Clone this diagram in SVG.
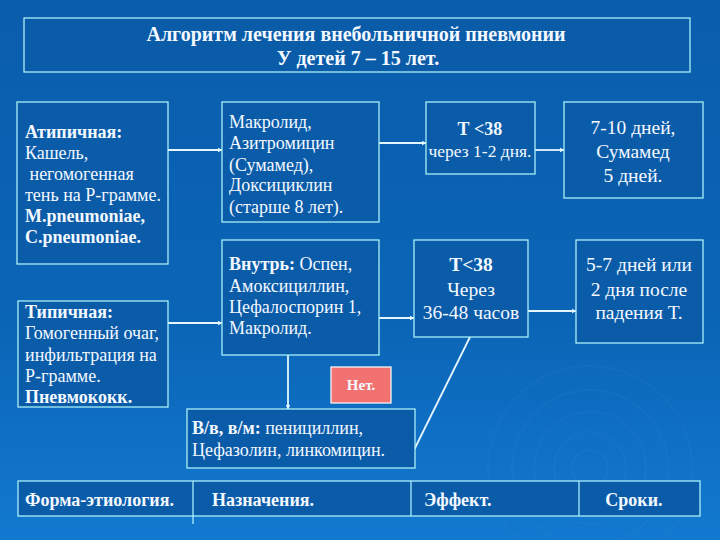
<svg xmlns="http://www.w3.org/2000/svg" width="720" height="540" viewBox="0 0 720 540">
<defs>
<linearGradient id="bg" x1="0" y1="0" x2="0" y2="1">
<stop offset="0" stop-color="#0A5DAC"/>
<stop offset="0.6" stop-color="#0B65B6"/>
<stop offset="1" stop-color="#1279D0"/>
</linearGradient>
<marker id="ah" viewBox="0 0 10 10" refX="9" refY="5" markerWidth="5" markerHeight="5" orient="auto" markerUnits="userSpaceOnUse">
<path d="M0,0 L10,5 L0,10 z" fill="#E6F6FF"/>
</marker>
<style>
.box{fill:#0A5CA9;stroke:#A8EEF8;stroke-width:1.3}
.ln{stroke:#E6F6FF;stroke-width:1.8;fill:none}
.ar{marker-end:url(#ah)}
.deco{fill:none;stroke:#3A8FDD;stroke-opacity:0.12;stroke-width:2}
</style>
</defs>
<rect width="720" height="540" fill="url(#bg)"/>
<g id="decor">
<circle class="deco" cx="590" cy="468" r="18"/>
<circle class="deco" cx="590" cy="468" r="36"/>
<circle class="deco" cx="590" cy="468" r="56"/>
<circle class="deco" cx="590" cy="468" r="78"/>
<circle class="deco" cx="590" cy="468" r="102"/>
</g>
<g id="title">
<rect class="box" x="24" y="18" width="666" height="54"/>
<text x="356" y="41" font-family="Liberation Serif" font-size="20" font-weight="bold" fill="#F4F8FF" text-anchor="middle">Алгоритм лечения внебольничной пневмонии</text>
<text x="358" y="65" font-family="Liberation Serif" font-size="20" font-weight="bold" fill="#F4F8FF" text-anchor="middle">У детей 7 – 15 лет.</text>
</g>
<g id="connectors">
<line class="ln ar" x1="168" y1="150" x2="222" y2="150"/>
<line class="ln ar" x1="168" y1="323" x2="222" y2="323"/>
<line class="ln ar" x1="379" y1="143" x2="426" y2="143"/>
<line class="ln ar" x1="535" y1="150" x2="564" y2="150"/>
<line class="ln ar" x1="379" y1="318" x2="414" y2="318"/>
<line class="ln ar" x1="528" y1="311" x2="576" y2="311"/>
<line class="ln ar" x1="288" y1="355" x2="288" y2="409"/>
<line class="ln" x1="470" y1="337" x2="414" y2="450" stroke-width="1.5"/>
</g>
<g id="atypical">
<rect class="box" x="17" y="102" width="151" height="162"/>
<text x="25" y="138" font-family="Liberation Serif" font-size="18" fill="#F4F8FF"><tspan font-weight="bold">Атипичная:</tspan><tspan x="25" dy="21">Кашель,</tspan><tspan x="25" dy="21"> негомогенная</tspan><tspan x="25" dy="21">тень на Р-грамме.</tspan><tspan x="25" dy="21" font-weight="bold">M.pneumoniae,</tspan><tspan x="25" dy="21" font-weight="bold">C.pneumoniae.</tspan></text>
</g>
<g id="typical">
<rect class="box" x="18" y="301" width="150" height="106"/>
<text x="25" y="318" font-family="Liberation Serif" font-size="18" fill="#F4F8FF"><tspan font-weight="bold">Типичная:</tspan><tspan x="25" dy="21">Гомогенный очаг,</tspan><tspan x="25" dy="22">инфильтрация на</tspan><tspan x="25" dy="21">Р-грамме.</tspan><tspan x="25" dy="21" font-weight="bold">Пневмококк.</tspan></text>
</g>
<g id="macrolide">
<rect class="box" x="222" y="102" width="157" height="120"/>
<text x="229" y="128" font-family="Liberation Serif" font-size="18" fill="#F4F8FF">Макролид,<tspan x="229" dy="21">Азитромицин</tspan><tspan x="229" dy="22">(Сумамед),</tspan><tspan x="229" dy="20">Доксициклин</tspan><tspan x="229" dy="22">(старше 8 лет).</tspan></text>
</g>
<g id="oral">
<rect class="box" x="222" y="240" width="157" height="115"/>
<text x="229" y="270" font-family="Liberation Serif" font-size="18" fill="#F4F8FF"><tspan font-weight="bold">Внутрь:</tspan> Оспен,<tspan x="229" dy="22">Амоксициллин,</tspan><tspan x="229" dy="21">Цефалоспорин 1,</tspan><tspan x="229" dy="21">Макролид.</tspan></text>
</g>
<g id="t38a">
<rect class="box" x="426" y="102" width="109" height="72"/>
<text x="480" y="135" font-family="Liberation Serif" font-size="18" font-weight="bold" fill="#F4F8FF" text-anchor="middle">Т &lt;38</text>
<text x="480" y="157" font-family="Liberation Serif" font-size="17.5" fill="#F4F8FF" text-anchor="middle">через 1-2 дня.</text>
</g>
<g id="days1">
<rect class="box" x="564" y="102" width="139" height="96"/>
<text x="633" y="134" font-family="Liberation Serif" font-size="19.5" fill="#F4F8FF" text-anchor="middle">7-10 дней,<tspan x="633" dy="24">Сумамед</tspan><tspan x="633" dy="24">5 дней.</tspan></text>
</g>
<g id="t38b">
<rect class="box" x="414" y="240" width="114" height="97"/>
<text x="471" y="271" font-family="Liberation Serif" font-size="19.5" font-weight="bold" fill="#F4F8FF" text-anchor="middle">Т&lt;38</text>
<text x="471" y="296" font-family="Liberation Serif" font-size="19.5" fill="#F4F8FF" text-anchor="middle">Через<tspan x="471" dy="23">36-48 часов</tspan></text>
</g>
<g id="days2">
<rect class="box" x="576" y="240" width="127" height="103"/>
<text x="639" y="271" font-family="Liberation Serif" font-size="19.5" fill="#F4F8FF" text-anchor="middle">5-7 дней или<tspan x="639" dy="25">2 дня после</tspan><tspan x="639" dy="23">падения Т.</tspan></text>
</g>
<g id="no">
<rect x="331" y="367" width="60" height="36" fill="#F27272" stroke="#F4F4F4" stroke-width="1.3"/>
<text x="361" y="390" font-family="Liberation Serif" font-size="15" font-weight="bold" fill="#F4F8FF" text-anchor="middle">Нет.</text>
</g>
<g id="iv">
<rect class="box" x="187" y="409" width="228" height="59"/>
<text x="192" y="434" font-family="Liberation Serif" font-size="18" fill="#F4F8FF"><tspan font-weight="bold">В/в, в/м:</tspan> пенициллин,<tspan x="192" dy="22">Цефазолин, линкомицин.</tspan></text>
</g>
<g id="footer">
<rect class="box" x="18" y="481" width="682" height="35"/>
<line x1="193" y1="481" x2="193" y2="524" stroke="#A8EEF8" stroke-width="1.3"/>
<line x1="411" y1="481" x2="411" y2="516" stroke="#A8EEF8" stroke-width="1.3"/>
<line x1="579" y1="481" x2="579" y2="516" stroke="#A8EEF8" stroke-width="1.3"/>
<text x="25" y="506" font-family="Liberation Serif" font-size="18" font-weight="bold" fill="#F4F8FF">Форма-этиология.</text>
<text x="212" y="506" font-family="Liberation Serif" font-size="18" font-weight="bold" fill="#F4F8FF">Назначения.</text>
<text x="424" y="506" font-family="Liberation Serif" font-size="18" font-weight="bold" fill="#F4F8FF">Эффект.</text>
<text x="634" y="506" font-family="Liberation Serif" font-size="18" font-weight="bold" fill="#F4F8FF" text-anchor="middle">Сроки.</text>
</g>
</svg>
